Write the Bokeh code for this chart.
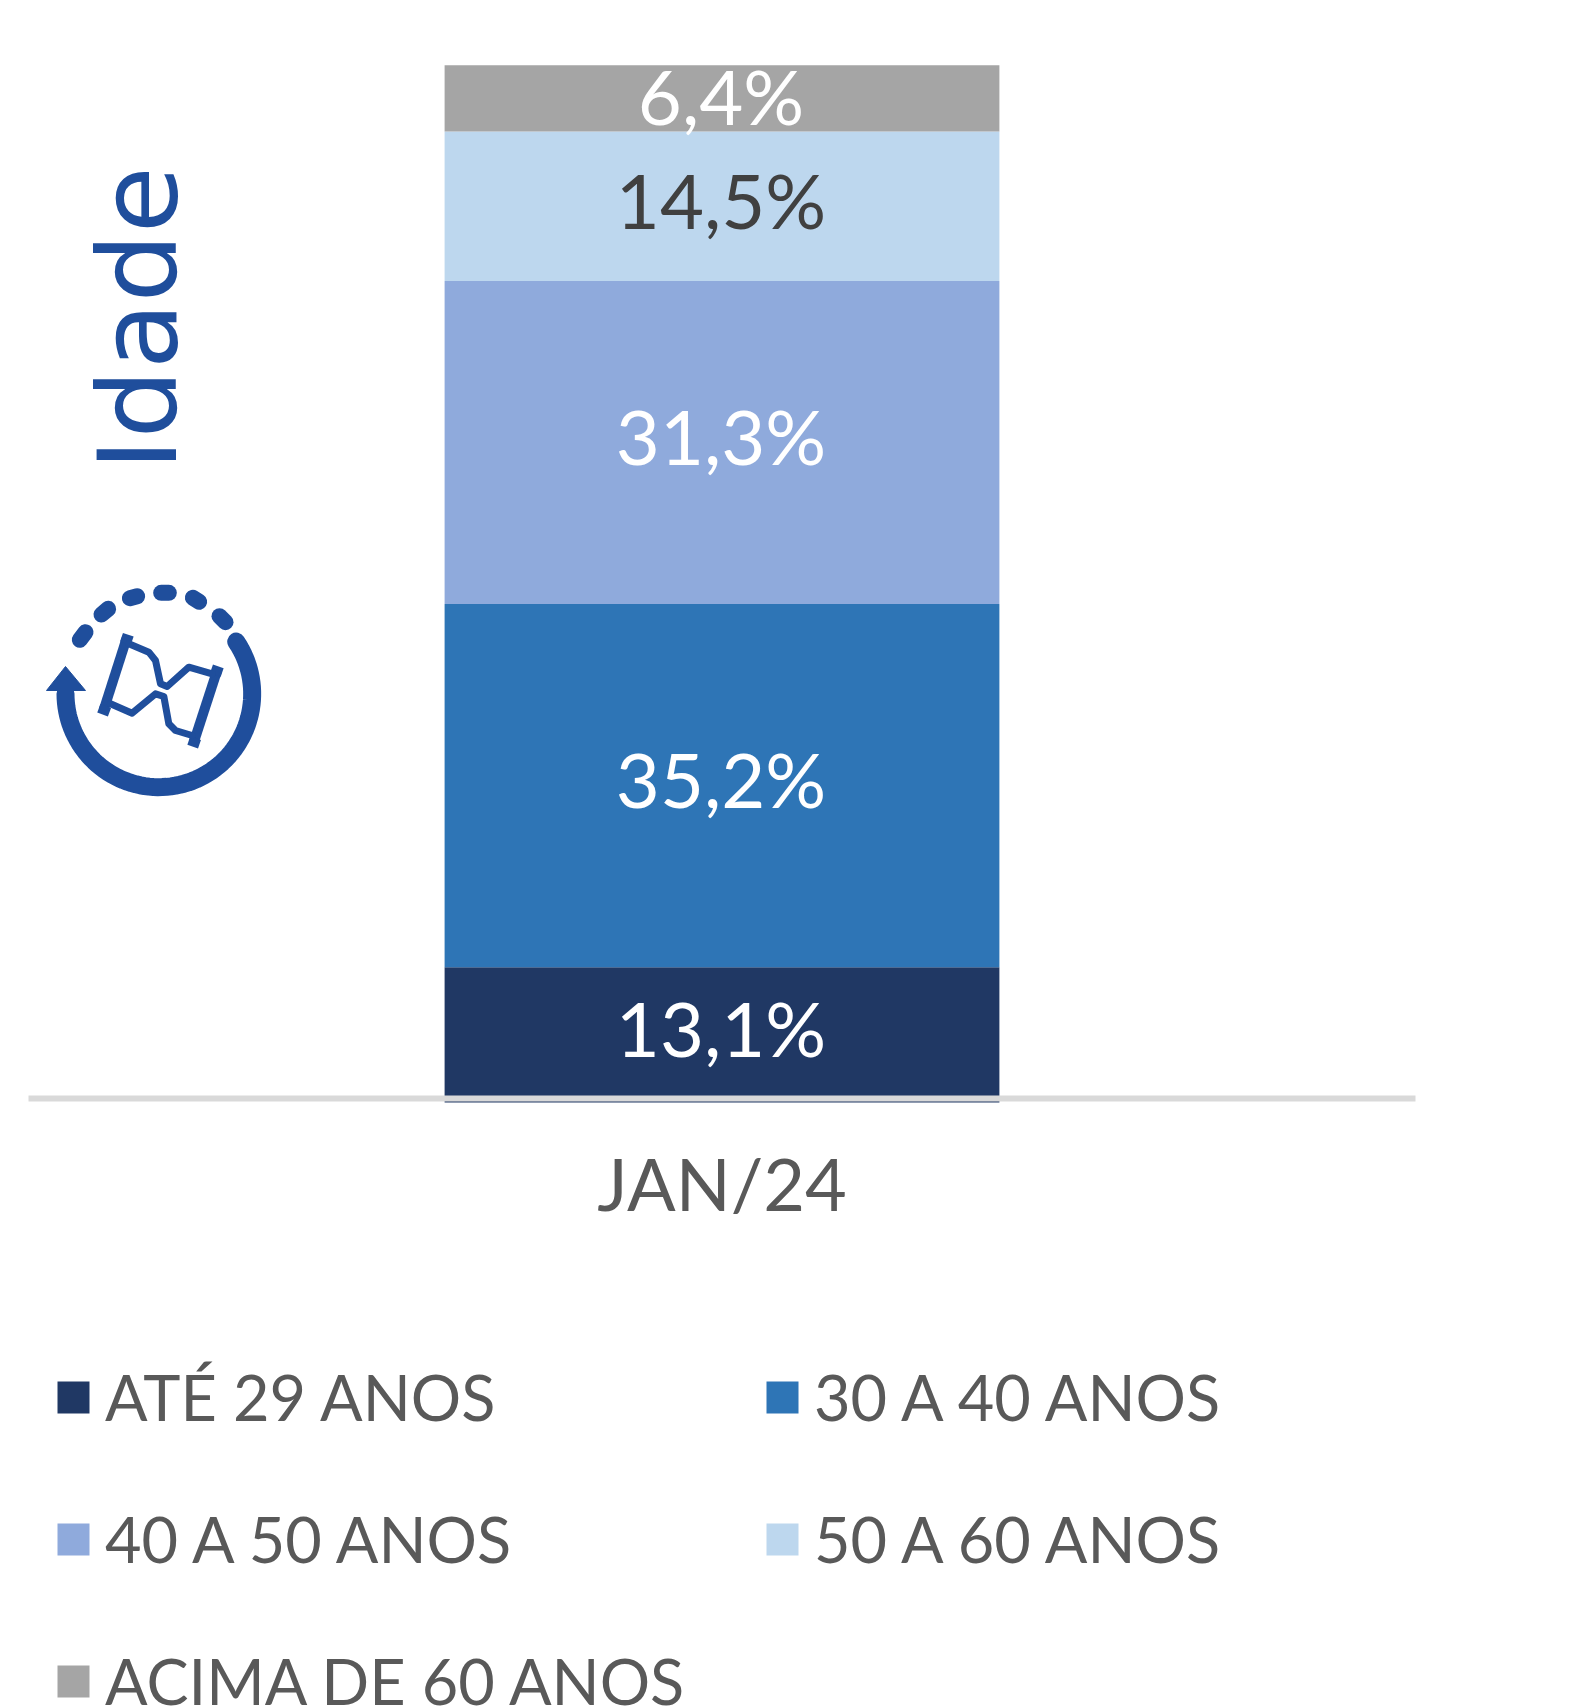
import numpy as np
from bokeh.plotting import figure
from bokeh.models import ColumnDataSource, Range1d, FixedTicker, Label
from bokeh.core.properties import value
from bokeh.embed import file_html
from bokeh.resources import INLINE

# --- data ---
categories = ["JAN/24"]
series_names = ["ATÉ 29 ANOS", "30 A 40 ANOS", "40 A 50 ANOS", "50 A 60 ANOS", "ACIMA DE 60 ANOS"]
series_values = [13.1, 35.2, 31.3, 14.5, 6.4]
value_labels = ["13,1%", "35,2%", "31,3%", "14,5%", "6,4%"]
series_colors = ["#203864", "#2E75B6", "#8FAADC", "#BDD7EE", "#A5A5A5"]
label_colors = ["#FFFFFF", "#FFFFFF", "#FFFFFF", "#404040", "#FFFFFF"]
title_text = "Idade"

FONT = "Lato"
GREY = "#595959"
ICON = "#1F4E9C"

W, H = 1569, 1708
UNIT_X = 1387.0   # pixels per category slot
UNIT_Y = 10.32    # pixels per percentage point
CX, BASE = 721.5, 1102.0

p = figure(width=W, height=H, output_backend="svg", toolbar_location=None,
           x_range=Range1d(-CX / UNIT_X, (W - CX) / UNIT_X),
           y_range=Range1d(-(H - BASE) / UNIT_Y, BASE / UNIT_Y),
           min_border_left=0, min_border_right=0, min_border_top=0, min_border_bottom=0,
           background_fill_color="white", border_fill_color="white", outline_line_color=None)
p.grid.visible = False
p.yaxis.visible = False

# --- stacked bar ---
positions = list(range(len(categories)))
src = ColumnDataSource({"pos": positions, **{n: [v] for n, v in zip(series_names, series_values)}})
p.vbar_stack(series_names, x="pos", width=0.4, color=series_colors, line_color=None, source=src,
             legend_label=series_names)

cum = np.cumsum([0] + series_values)
mids = (cum[:-1] + cum[1:]) / 2
label_src = ColumnDataSource(dict(x=positions * 5, y=mids, text=value_labels, color=label_colors,
                                  dy=[-7, -7, -7, -7, -3]))
p.text(x="x", y="y", text="text", text_color="color", source=label_src,
       text_align="center", text_baseline="middle", text_font=value(FONT), text_font_size="76px",
       y_offset="dy", x_offset=-1)

# --- axis ---
ax = p.xaxis[0]
ax.ticker = FixedTicker(ticks=positions)
ax.major_label_overrides = dict(zip(positions, categories))
ax.fixed_location = 0.39
ax.bounds = (-0.5, 0.5)
ax.axis_line_color = "#D9D9D9"
ax.axis_line_width = 6
ax.major_tick_line_color = None
ax.minor_tick_line_color = None
ax.major_label_text_color = GREY
ax.major_label_text_font = FONT
ax.major_label_text_font_size = "72px"
ax.major_label_standoff = 36

# --- legend ---
lg = p.legend[0]
lg.location = (53, -10)
lg.orientation = "horizontal"
lg.ncols = 2
lg.border_line_color = None
lg.background_fill_alpha = 0
lg.padding = 0
lg.margin = 0
lg.spacing = 67
lg.glyph_width = 40
lg.glyph_height = 40
lg.label_standoff = 12
lg.label_text_font = FONT
lg.label_text_font_size = "63px"
lg.label_text_color = GREY
lg.label_width = 590
lg.label_height = 70

# --- decorative heading and icon, placed in page pixels ---
p.extra_x_ranges["px"] = Range1d(0, W)
p.extra_y_ranges["px"] = Range1d(H, 0)

p.add_layout(Label(x=138, y=318, x_range_name="px", y_range_name="px", text=title_text,
                   angle=np.pi / 2, text_align="center", text_baseline="alphabetic",
                   text_color=ICON, text_font="DejaVu Sans", text_font_size="109px"))

def zx(v):
    return 20 + np.asarray(v, dtype=float) / 3

def zy(v):
    return 560 + np.asarray(v, dtype=float) / 3

def stroke(xs, ys, w, cap="round"):
    p.line(zx(xs), zy(ys), line_color=ICON, line_width=w, line_cap=cap, line_join="round",
           x_range_name="px", y_range_name="px")

t = np.radians(np.linspace(-34, 180, 80))
stroke(415 + 280 * np.cos(t), 400 + 280 * np.sin(t), 18)
p.patch(zx([78, 195, 135]), zy([390, 390, 318]), color=ICON, line_width=1,
        x_range_name="px", y_range_name="px")
for a, b, c, d in [(178, 238, 195, 215), (243, 162, 263, 145), (328, 113, 350, 107),
                   (422, 97, 445, 97), (517, 112, 536, 124), (597, 167, 615, 185)]:
    stroke([a, c], [b, d], 16)
stroke([318, 250], [235, 447], 10, "butt")
stroke([590, 520], [330, 545], 10, "butt")
stroke([303, 335], [230, 241], 9, "butt")
stroke([235, 267], [443, 455], 9, "butt")
stroke([573, 605], [325, 336], 9, "butt")
stroke([505, 537], [540, 551], 9, "butt")
stroke([325, 385, 405, 420, 440, 505, 575], [250, 275, 300, 370, 378, 320, 340], 7)
stroke([270, 335, 405, 430, 445, 465, 515], [430, 458, 400, 408, 490, 510, 525], 7)

open("out.html", "w").write(file_html(p, INLINE))
